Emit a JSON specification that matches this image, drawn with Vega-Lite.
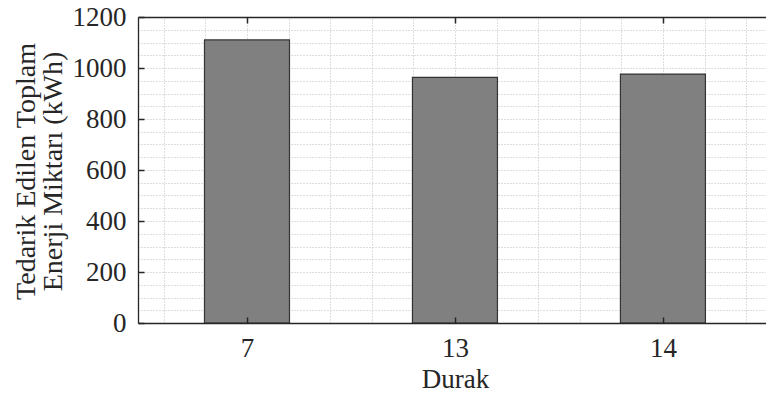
{
  "$schema": "https://vega.github.io/schema/vega-lite/v6.json",
  "width": 628,
  "height": 306,
  "autosize": "none",
  "padding": {"left": 138, "top": 17, "right": 0, "bottom": 73},
  "background": "white",
  "config": {
    "view": {"stroke": null},
    "font": "Liberation Serif",
    "axis": {
      "labelFont": "Liberation Serif",
      "titleFont": "Liberation Serif",
      "labelFontSize": 27,
      "titleFontSize": 28,
      "titleFontWeight": "normal",
      "labelColor": "#262626",
      "titleColor": "#262626",
      "domainColor": "#262626",
      "tickColor": "#262626",
      "domainWidth": 1.3,
      "tickWidth": 1.5,
      "gridColor": "#bdbdbd",
      "gridDash": [1, 2],
      "gridWidth": 1
    }
  },
  "data": {
    "values": [
      {"i": 1, "durak": "7", "enerji": 1110},
      {"i": 2, "durak": "13", "enerji": 963},
      {"i": 3, "durak": "14", "enerji": 976}
    ]
  },
  "layer": [
    {
      "mark": {"type": "bar", "width": 85, "fill": "#808080", "stroke": "#333333", "strokeWidth": 1.2},
      "encoding": {
        "x": {
          "field": "i",
          "type": "quantitative",
          "scale": {"domain": [0.5, 3.4716], "nice": false, "zero": false},
          "axis": {
            "orient": "bottom",
            "zindex": 1,
            "values": [1, 2, 3],
            "labelExpr": "datum.value === 1 ? '7' : datum.value === 2 ? '13' : datum.value === 3 ? '14' : ''",
            "labelOverlap": false,
            "labelFlush": false,
            "tickSize": -6,
            "labelPadding": 18,
            "grid": false,
            "title": "Durak",
            "titleFontSize": 27,
            "titleX": 317,
            "titleY": 64,
            "titleBaseline": "alphabetic"
          }
        },
        "y": {
          "field": "enerji",
          "type": "quantitative",
          "scale": {"domain": [0, 1200], "nice": false},
          "axis": {
            "orient": "left",
            "zindex": 1,
            "values": [0, 200, 400, 600, 800, 1000, 1200],
            "format": "d",
            "labelOverlap": false,
            "labelFlush": false,
            "tickSize": -6,
            "labelPadding": 18,
            "grid": false,
            "title": ["Tedarik Edilen Toplam", "Enerji Miktarı (kWh)"],
            "titleAngle": -90,
            "titleX": -112,
            "titleY": 154,
            "titleAlign": "center",
            "titleBaseline": "middle",
            "titleLineHeight": 27
          }
        }
      }
    },
    {
      "mark": {"type": "point", "opacity": 0},
      "encoding": {
        "x": {
          "field": "i",
          "type": "quantitative",
          "scale": {"domain": [0.5, 3.4716], "nice": false, "zero": false},
          "axis": {
            "orient": "top",
            "zindex": 0,
            "values": [0.6, 0.8, 1, 1.2, 1.4, 1.6, 1.8, 2, 2.2, 2.4, 2.6, 2.8, 3, 3.2, 3.4],
            "labels": false,
            "tickSize": -6,
            "tickOpacity": {"condition": {"test": "datum.value === 1 || datum.value === 2 || datum.value === 3", "value": 1}, "value": 0},
            "grid": true,
            "title": null
          }
        },
        "y": {
          "field": "enerji",
          "type": "quantitative",
          "scale": {"domain": [0, 1200], "nice": false},
          "axis": {
            "orient": "right",
            "zindex": 0,
            "values": [0, 50, 100, 150, 200, 250, 300, 350, 400, 450, 500, 550, 600, 650, 700, 750, 800, 850, 900, 950, 1000, 1050, 1100, 1150, 1200],
            "labels": false,
            "ticks": false,
            "domain": false,
            "grid": true,
            "title": null
          }
        }
      }
    }
  ],
  "resolve": {"axis": {"x": "independent", "y": "independent"}}
}
